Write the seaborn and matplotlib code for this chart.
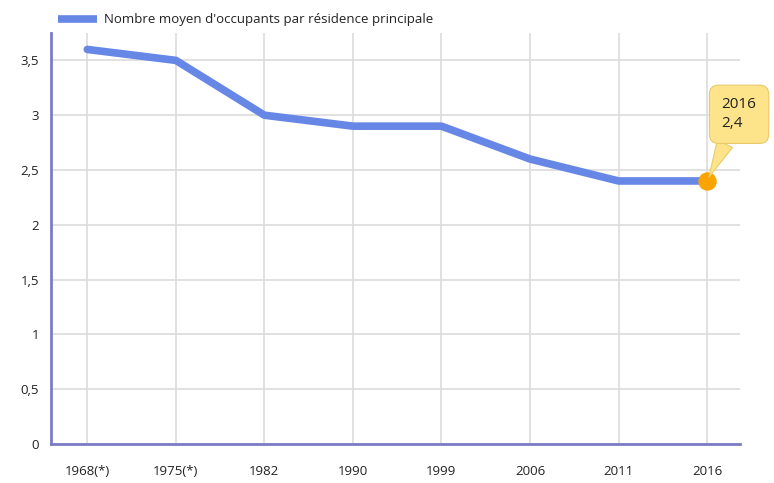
import pandas as pd
import numpy as np
import matplotlib.pyplot as plt
import seaborn as sns
from matplotlib.lines import Line2D

# données
annees = ['1968(*)', '1975(*)', '1982', '1990', '1999', '2006', '2011', '2016']
occupants = [3.6, 3.5, 3.0, 2.9, 2.9, 2.6, 2.4, 2.4]
yticks = [0, 0.5, 1, 1.5, 2, 2.5, 3, 3.5]
serie = "Nombre moyen d'occupants par résidence principale"

df = pd.DataFrame({'annee': annees, 'occupants': occupants})
df['pos'] = range(len(df))

sns.set_style('white')
plt.rcParams['font.family'] = ['Open Sans', 'DejaVu Sans']

fig = plt.figure(figsize=(7.74, 4.83), dpi=100)
ax = fig.add_axes([0.0659, 0.0807, 0.89, 0.851])

ligne = '#6787e6'
sns.lineplot(data=df, x='pos', y='occupants', ax=ax, color=ligne, lw=5.5,
             solid_capstyle='round', legend=False)

# point mis en évidence
last = df.iloc[-1]
ax.scatter([last['pos']], [last['occupants']], s=150, color='#f9a400', zorder=5, clip_on=False)

ax.set_xlim(-0.41, 7.37)
ax.set_ylim(0, 3.75)
ax.set_xticks(df['pos'])
ax.set_xticklabels(df['annee'])
ax.set_yticks(yticks)
ax.set_yticklabels([f'{v:g}'.replace('.', ',') for v in yticks])
ax.set_xlabel('')
ax.set_ylabel('')

ax.grid(True, color='#dcdcdc', lw=1.2)
ax.set_axisbelow(True)
for s in ['top', 'right']:
    ax.spines[s].set_visible(False)
for s in ['left', 'bottom']:
    ax.spines[s].set_color('#7b7bc6')
    ax.spines[s].set_linewidth(2)
ax.tick_params(axis='both', colors='#dcdcdc', labelcolor='#222222', labelsize=9.5, length=5)
ax.tick_params(axis='x', pad=10)

handle = Line2D([0], [0], color=ligne, lw=5.5, solid_capstyle='butt')
leg = ax.legend([handle], [serie], loc='lower left', bbox_to_anchor=(0.0, 1.0), frameon=False,
                fontsize=9.5, handlelength=3, borderaxespad=0.1, handletextpad=0.5)
for t in leg.get_texts():
    t.set_color('#222222')

# infobulle
ax.annotate(f"{annees[-1]}\n{str(occupants[-1]).replace('.', ',')}",
            xy=(last['pos'], last['occupants']), xytext=(23, 48), textcoords='offset points',
            ha='center', va='center', multialignment='left', fontsize=11, color='#222222',
            linespacing=1.35,
            bbox=dict(boxstyle='round,pad=0.8,rounding_size=0.6', fc='#fde389', ec='#e9c96a', lw=0.8),
            arrowprops=dict(arrowstyle='wedge,tail_width=1.1,shrink_factor=0.5', fc='#fde389',
                            ec='#e9c96a', lw=0.8, shrinkA=0, shrinkB=3),
            annotation_clip=False, zorder=6)

fig.savefig('out.png', dpi=100)
